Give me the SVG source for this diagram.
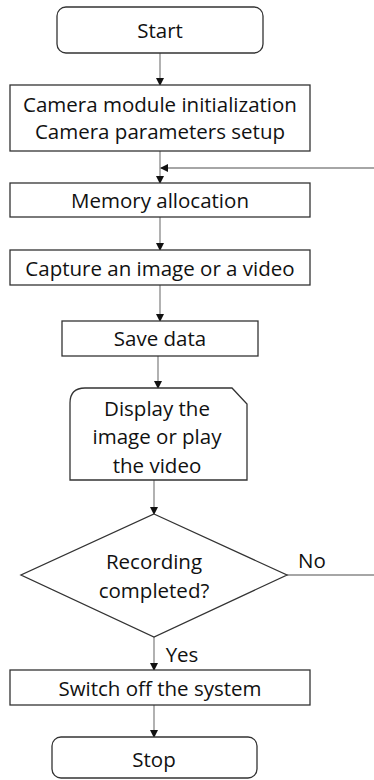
<svg xmlns="http://www.w3.org/2000/svg" width="374" height="780" viewBox="0 0 374 780">
<defs>
<style>
.n{fill:#fff;stroke:#333;stroke-width:1.3}
.t{font-family:"Open Sans","Liberation Sans",sans-serif;font-size:20.5px;fill:#111;text-anchor:middle}
.c{fill:none;stroke:#888;stroke-width:1.3}
</style>
<marker id="a" markerWidth="8" markerHeight="8" refX="7" refY="4" orient="auto" markerUnits="userSpaceOnUse">
<path d="M0,0 L8,4 L0,8 Z" fill="#111"/>
</marker>
</defs>
<rect width="374" height="780" fill="#fff"/>
<g id="connectors">
<line class="c" x1="160" y1="53" x2="160" y2="85" marker-end="url(#a)"/>
<line class="c" x1="160" y1="151" x2="160" y2="183" marker-end="url(#a)"/>
<line class="c" x1="374" y1="168" x2="161" y2="168" marker-end="url(#a)"/>
<line class="c" x1="160" y1="217" x2="160" y2="250" marker-end="url(#a)"/>
<line class="c" x1="160" y1="285" x2="160" y2="321" marker-end="url(#a)"/>
<line class="c" x1="158" y1="356" x2="158" y2="388" marker-end="url(#a)"/>
<line class="c" x1="154" y1="480" x2="154" y2="514" marker-end="url(#a)"/>
<line class="c" x1="287" y1="575" x2="374" y2="575"/>
<line class="c" x1="154" y1="637" x2="154" y2="670" marker-end="url(#a)"/>
<line class="c" x1="154" y1="705" x2="154" y2="737" marker-end="url(#a)"/>
<text class="t" x="312" y="568">No</text>
<text class="t" x="182" y="662">Yes</text>
</g>
<g id="start">
<rect class="n" x="57" y="7" width="206" height="46" rx="9"/>
<text class="t" x="160" y="38">Start</text>
</g>
<g id="init">
<rect class="n" x="10" y="85" width="300" height="66"/>
<text class="t" x="160" y="112">Camera module initialization</text>
<text class="t" x="160" y="139">Camera parameters setup</text>
</g>
<g id="memory">
<rect class="n" x="10" y="183" width="300" height="34"/>
<text class="t" x="160" y="208">Memory allocation</text>
</g>
<g id="capture">
<rect class="n" x="10" y="250" width="300" height="35"/>
<text class="t" x="160" y="276">Capture an image or a video</text>
</g>
<g id="save">
<rect class="n" x="62" y="321" width="196" height="35"/>
<text class="t" x="160" y="346">Save data</text>
</g>
<g id="display">
<path class="n" d="M70,480 L70,403 Q70,388 85,388 L232,388 L247,404 L247,480 Z"/>
<text class="t" x="157" y="416">Display the</text>
<text class="t" x="157" y="444">image or play</text>
<text class="t" x="157" y="473">the video</text>
</g>
<g id="decision">
<polygon class="n" points="154,514 287,575 154,637 21,575"/>
<text class="t" x="154" y="569">Recording</text>
<text class="t" x="154" y="598">completed?</text>
</g>
<g id="switch">
<rect class="n" x="10" y="670" width="300" height="35"/>
<text class="t" x="160" y="696">Switch off the system</text>
</g>
<g id="stop">
<rect class="n" x="52" y="737" width="205" height="41" rx="9"/>
<text class="t" x="154" y="767">Stop</text>
</g>
</svg>
